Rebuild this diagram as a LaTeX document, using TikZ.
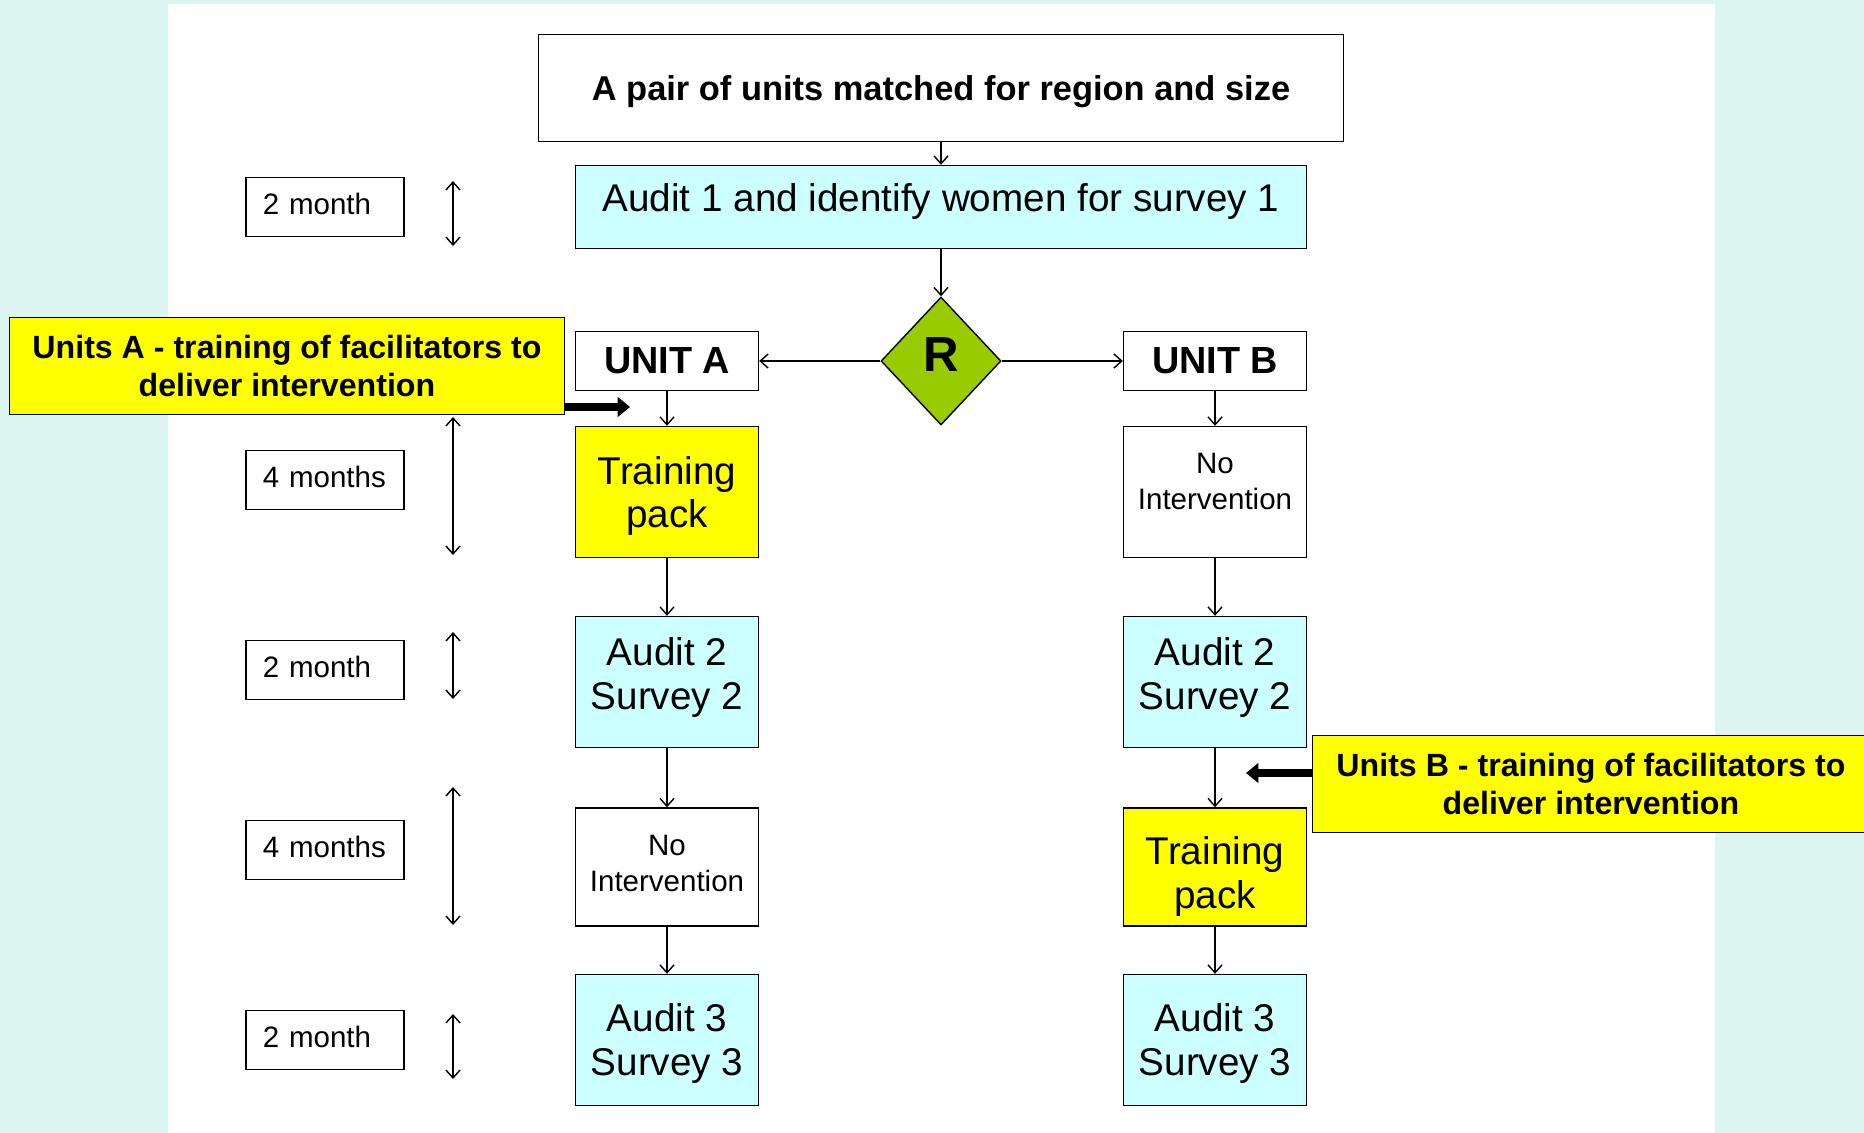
\documentclass[tikz,border=0pt]{standalone}
\usepackage{fontspec}
\setmainfont{Liberation Sans}
\usetikzlibrary{shapes.geometric,arrows.meta}
\definecolor{pale}{HTML}{DCF5F0}
\definecolor{auditblue}{HTML}{CCFFFF}
\definecolor{packyellow}{HTML}{FFFF00}
\definecolor{rgreen}{HTML}{99CC00}

\begin{document}
\begin{tikzpicture}[x=0.02cm, y=-0.02cm, line width=0.8pt,
    every node/.style={draw, align=center, inner sep=0pt},
    box/.style={minimum width=3.66cm, minimum height=2.62cm, font=\fontsize{22}{25}\selectfont},
    audit/.style={box, fill=auditblue},
    pack/.style={box, fill=packyellow},
    idle/.style={box, font=\fontsize{16.8}{20.3}\selectfont},
    unit/.style={minimum width=3.66cm, minimum height=1.18cm, font=\bfseries\fontsize{21.5}{25}\selectfont},
    note/.style={fill=packyellow, minimum height=1.94cm, font=\bfseries\fontsize{18.3}{21.6}\selectfont},
    period/.style={minimum width=3.16cm, minimum height=1.19cm, text width=2.49cm, text depth=3.5pt, align=left, font=\fontsize{16.8}{20}\selectfont},
    arr/.style={-{Straight Barb[length=4.5pt,width=8pt]}},
    span/.style={{Straight Barb[length=4.5pt,width=8pt]}-{Straight Barb[length=4.5pt,width=8pt]}},
    push/.style={line width=4.7pt, -{Triangle[length=7pt,width=11pt]}}]
    \clip (0,0) rectangle (1864,1133);
    \fill[pale] (0,0) rectangle (1864,1133);
    \fill[white] (168,4) rectangle (1715,1133);

    \node[minimum width=16.1cm, minimum height=2.14cm, text depth=0pt, font=\bfseries\fontsize{19.6}{23}\selectfont] (pair) at (941,88) {A pair of units matched for region and size};
    \node[audit, minimum width=14.62cm, minimum height=1.66cm, text depth=11pt] (audit1) at (941,207) {Audit 1 and identify women for survey 1};
    \node[diamond, fill=rgreen, minimum width=2.4cm, minimum height=2.56cm, text depth=6.8pt, font=\bfseries\fontsize{28}{30}\selectfont] (R) at (941,361) {R};

    \node[unit] (unitA) at (667,361) {UNIT A};
    \node[unit] (unitB) at (1215,361) {UNIT B};

    \node[pack, text depth=0pt] (packA) at (667,492) {Training\\pack};
    \node[audit, text depth=10pt] (auditA2) at (667,682) {Audit 2\\Survey 2};
    \node[idle, minimum height=2.36cm, text depth=4pt] (noneA) at (667,867) {No\\Intervention};
    \node[audit, text depth=0.5pt] (auditA3) at (667,1040) {Audit 3\\Survey 3};

    \node[idle, text depth=12pt] (noneB) at (1215,492) {No\\Intervention};
    \node[audit, text depth=10pt] (auditB2) at (1215,682) {Audit 2\\Survey 2};
    \node[pack, minimum height=2.36cm, text height=47.6pt, text depth=0pt] (packB) at (1215,867) {Training\\pack};
    \node[audit, text depth=0.5pt] (auditB3) at (1215,1040) {Audit 3\\Survey 3};

    \node[note, minimum width=11.1cm, text depth=0pt] (noteA) at (287,366) {Units A - training of facilitators to\\deliver intervention};
    \node[note, minimum width=11.15cm] (noteB) at (1591,784) {Units B - training of facilitators to\\deliver intervention};

    \node[period] (p1) at (325,207) {2 month};
    \node[period] (p2) at (325,480) {4 months};
    \node[period] (p3) at (325,670) {2 month};
    \node[period] (p4) at (325,850) {4 months};
    \node[period] (p5) at (325,1040) {2 month};

    \coordinate (t1) at (453,181); \coordinate (b1) at (453,246);
    \coordinate (t2) at (453,417); \coordinate (b2) at (453,555);
    \coordinate (t3) at (453,632); \coordinate (b3) at (453,699);
    \coordinate (t4) at (453,787); \coordinate (b4) at (453,925);
    \coordinate (t5) at (453,1014); \coordinate (b5) at (453,1079);
    \draw[span] (t1) -- (b1);
    \draw[span] (t2) -- (b2);
    \draw[span] (t3) -- (b3);
    \draw[span] (t4) -- (b4);
    \draw[span] (t5) -- (b5);

    \draw[arr] (pair) -- (audit1);
    \draw[arr] (audit1) -- (R);
    \draw[arr] (R) -- (unitA);
    \draw[arr] (R) -- (unitB);
    \draw[arr] (unitA) -- (packA);
    \draw[arr] (packA) -- (auditA2);
    \draw[arr] (auditA2) -- (noneA);
    \draw[arr] (noneA) -- (auditA3);
    \draw[arr] (unitB) -- (noneB);
    \draw[arr] (noneB) -- (auditB2);
    \draw[arr] (auditB2) -- (packB);
    \draw[arr] (packB) -- (auditB3);

    \coordinate (inA) at (630,407);
    \coordinate (inB) at (1246,773);
    \draw[push] (noteA.east |- inA) -- (inA);
    \draw[push] (noteB.west |- inB) -- (inB);
\end{tikzpicture}
\end{document}
